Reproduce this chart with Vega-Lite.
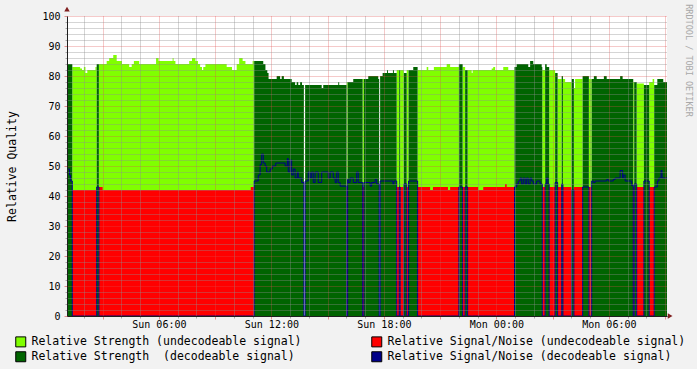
{
  "$schema": "https://vega.github.io/schema/vega-lite/v6.json",
  "width": 600,
  "height": 300,
  "autosize": {"type": "none"},
  "padding": {"left": 67, "top": 16, "right": 30, "bottom": 53},
  "background": "#f2f2f2",
  "config": {
    "view": {"stroke": null, "fill": "#ffffff"},
    "font": "DejaVu Sans Mono",
    "axis": {"labelFont": "DejaVu Sans Mono", "titleFont": "DejaVu Sans Mono", "labelColor": "#000000", "titleColor": "#000000"}
  },
  "data": {"values": [
    {"t":"2024-01-07T01:06","lg":0,"dg":85,"rd":0,"bl":49},
    {"t":"2024-01-07T01:09","lg":0,"dg":84,"rd":0,"bl":49},
    {"t":"2024-01-07T01:14","lg":0,"dg":84,"rd":0,"bl":47},
    {"t":"2024-01-07T01:17","lg":0,"dg":84,"rd":0,"bl":45},
    {"t":"2024-01-07T01:23","lg":83,"dg":0,"rd":42,"bl":0},
    {"t":"2024-01-07T01:48","lg":82.5,"dg":0,"rd":42,"bl":0},
    {"t":"2024-01-07T01:54","lg":82,"dg":0,"rd":42,"bl":0},
    {"t":"2024-01-07T02:00","lg":83,"dg":0,"rd":42,"bl":0},
    {"t":"2024-01-07T02:05","lg":81,"dg":0,"rd":42,"bl":0},
    {"t":"2024-01-07T02:11","lg":82,"dg":0,"rd":42,"bl":0},
    {"t":"2024-01-07T02:37","lg":83,"dg":0,"rd":42,"bl":0},
    {"t":"2024-01-07T02:41","lg":0,"dg":84,"rd":0,"bl":43},
    {"t":"2024-01-07T02:48","lg":84,"dg":0,"rd":43,"bl":0},
    {"t":"2024-01-07T03:00","lg":84,"dg":0,"rd":42,"bl":0},
    {"t":"2024-01-07T03:13","lg":85,"dg":0,"rd":42,"bl":0},
    {"t":"2024-01-07T03:21","lg":86,"dg":0,"rd":42,"bl":0},
    {"t":"2024-01-07T03:34","lg":87,"dg":0,"rd":42,"bl":0},
    {"t":"2024-01-07T03:45","lg":85,"dg":0,"rd":42,"bl":0},
    {"t":"2024-01-07T04:02","lg":84,"dg":0,"rd":42,"bl":0},
    {"t":"2024-01-07T04:25","lg":83,"dg":0,"rd":42,"bl":0},
    {"t":"2024-01-07T04:33","lg":84,"dg":0,"rd":42,"bl":0},
    {"t":"2024-01-07T04:40","lg":85,"dg":0,"rd":42,"bl":0},
    {"t":"2024-01-07T04:57","lg":84,"dg":0,"rd":42,"bl":0},
    {"t":"2024-01-07T05:51","lg":86,"dg":0,"rd":42,"bl":0},
    {"t":"2024-01-07T05:59","lg":85,"dg":0,"rd":42,"bl":0},
    {"t":"2024-01-07T06:44","lg":86,"dg":0,"rd":42,"bl":0},
    {"t":"2024-01-07T06:47","lg":85,"dg":0,"rd":42,"bl":0},
    {"t":"2024-01-07T06:53","lg":84,"dg":0,"rd":42,"bl":0},
    {"t":"2024-01-07T07:37","lg":85,"dg":0,"rd":42,"bl":0},
    {"t":"2024-01-07T07:46","lg":86,"dg":0,"rd":42,"bl":0},
    {"t":"2024-01-07T07:57","lg":85,"dg":0,"rd":42,"bl":0},
    {"t":"2024-01-07T08:05","lg":84,"dg":0,"rd":42,"bl":0},
    {"t":"2024-01-07T08:12","lg":83,"dg":0,"rd":42,"bl":0},
    {"t":"2024-01-07T08:18","lg":82,"dg":0,"rd":42,"bl":0},
    {"t":"2024-01-07T08:22","lg":83,"dg":0,"rd":42,"bl":0},
    {"t":"2024-01-07T08:29","lg":84,"dg":0,"rd":42,"bl":0},
    {"t":"2024-01-07T09:37","lg":83,"dg":0,"rd":42,"bl":0},
    {"t":"2024-01-07T09:54","lg":82,"dg":0,"rd":42,"bl":0},
    {"t":"2024-01-07T10:09","lg":84,"dg":0,"rd":42,"bl":0},
    {"t":"2024-01-07T10:17","lg":86,"dg":0,"rd":42,"bl":0},
    {"t":"2024-01-07T10:28","lg":85,"dg":0,"rd":42,"bl":0},
    {"t":"2024-01-07T10:37","lg":84,"dg":0,"rd":42,"bl":0},
    {"t":"2024-01-07T10:54","lg":84,"dg":0,"rd":43,"bl":0},
    {"t":"2024-01-07T11:00","lg":85,"dg":0,"rd":43,"bl":0},
    {"t":"2024-01-07T11:05","lg":0,"dg":85,"rd":0,"bl":45},
    {"t":"2024-01-07T11:18","lg":0,"dg":85,"rd":0,"bl":47},
    {"t":"2024-01-07T11:24","lg":0,"dg":85,"rd":0,"bl":50.5},
    {"t":"2024-01-07T11:29","lg":0,"dg":85,"rd":0,"bl":54},
    {"t":"2024-01-07T11:34","lg":0,"dg":84,"rd":0,"bl":51},
    {"t":"2024-01-07T11:40","lg":0,"dg":84,"rd":0,"bl":50},
    {"t":"2024-01-07T11:41","lg":0,"dg":82,"rd":0,"bl":50},
    {"t":"2024-01-07T11:45","lg":0,"dg":82,"rd":0,"bl":48},
    {"t":"2024-01-07T11:47","lg":0,"dg":81,"rd":0,"bl":48},
    {"t":"2024-01-07T11:51","lg":0,"dg":79,"rd":0,"bl":48},
    {"t":"2024-01-07T11:56","lg":0,"dg":79,"rd":0,"bl":49},
    {"t":"2024-01-07T12:03","lg":0,"dg":79,"rd":0,"bl":50},
    {"t":"2024-01-07T12:14","lg":0,"dg":79,"rd":0,"bl":51},
    {"t":"2024-01-07T12:17","lg":0,"dg":80,"rd":0,"bl":51},
    {"t":"2024-01-07T12:28","lg":0,"dg":79,"rd":0,"bl":51},
    {"t":"2024-01-07T12:33","lg":0,"dg":80,"rd":0,"bl":51},
    {"t":"2024-01-07T12:40","lg":0,"dg":79,"rd":0,"bl":51},
    {"t":"2024-01-07T12:44","lg":0,"dg":79,"rd":0,"bl":50},
    {"t":"2024-01-07T12:51","lg":0,"dg":79,"rd":0,"bl":52.5},
    {"t":"2024-01-07T12:54","lg":0,"dg":79,"rd":0,"bl":48},
    {"t":"2024-01-07T13:00","lg":0,"dg":79,"rd":0,"bl":52},
    {"t":"2024-01-07T13:05","lg":0,"dg":78,"rd":0,"bl":47},
    {"t":"2024-01-07T13:10","lg":0,"dg":78,"rd":0,"bl":49},
    {"t":"2024-01-07T13:16","lg":0,"dg":77,"rd":0,"bl":46},
    {"t":"2024-01-07T13:21","lg":0,"dg":78,"rd":0,"bl":46},
    {"t":"2024-01-07T13:23","lg":0,"dg":78,"rd":0,"bl":48},
    {"t":"2024-01-07T13:26","lg":0,"dg":77,"rd":0,"bl":46},
    {"t":"2024-01-07T13:32","lg":0,"dg":78,"rd":0,"bl":46},
    {"t":"2024-01-07T13:37","lg":0,"dg":78,"rd":0,"bl":44.5},
    {"t":"2024-01-07T13:38","lg":0,"dg":77,"rd":0,"bl":44.5},
    {"t":"2024-01-07T13:44","lg":0,"dg":0,"rd":0,"bl":0},
    {"t":"2024-01-07T13:48","lg":0,"dg":77,"rd":0,"bl":45},
    {"t":"2024-01-07T13:58","lg":0,"dg":77,"rd":0,"bl":48},
    {"t":"2024-01-07T14:04","lg":0,"dg":77,"rd":0,"bl":46},
    {"t":"2024-01-07T14:09","lg":0,"dg":77,"rd":0,"bl":48},
    {"t":"2024-01-07T14:14","lg":0,"dg":77,"rd":0,"bl":44.5},
    {"t":"2024-01-07T14:20","lg":0,"dg":77,"rd":0,"bl":48},
    {"t":"2024-01-07T14:30","lg":0,"dg":77,"rd":0,"bl":44.5},
    {"t":"2024-01-07T14:41","lg":0,"dg":76,"rd":0,"bl":48},
    {"t":"2024-01-07T14:46","lg":0,"dg":77,"rd":0,"bl":48},
    {"t":"2024-01-07T15:02","lg":0,"dg":77,"rd":0,"bl":46},
    {"t":"2024-01-07T15:08","lg":0,"dg":77,"rd":0,"bl":48},
    {"t":"2024-01-07T15:18","lg":0,"dg":77,"rd":0,"bl":46},
    {"t":"2024-01-07T15:24","lg":0,"dg":77,"rd":0,"bl":44.5},
    {"t":"2024-01-07T15:29","lg":0,"dg":77,"rd":0,"bl":48},
    {"t":"2024-01-07T15:34","lg":0,"dg":78,"rd":0,"bl":44.5},
    {"t":"2024-01-07T15:37","lg":0,"dg":77,"rd":0,"bl":44.5},
    {"t":"2024-01-07T15:40","lg":0,"dg":77,"rd":0,"bl":43.3},
    {"t":"2024-01-07T16:01","lg":78,"dg":0,"rd":43,"bl":0},
    {"t":"2024-01-07T16:04","lg":0,"dg":78,"rd":0,"bl":45.5},
    {"t":"2024-01-07T16:06","lg":0,"dg":78,"rd":0,"bl":44.5},
    {"t":"2024-01-07T16:12","lg":0,"dg":78,"rd":0,"bl":46},
    {"t":"2024-01-07T16:22","lg":0,"dg":79,"rd":0,"bl":44.5},
    {"t":"2024-01-07T16:33","lg":0,"dg":79,"rd":0,"bl":48},
    {"t":"2024-01-07T16:38","lg":0,"dg":79,"rd":0,"bl":44.5},
    {"t":"2024-01-07T16:52","lg":79,"dg":0,"rd":43,"bl":0},
    {"t":"2024-01-07T16:56","lg":0,"dg":79,"rd":0,"bl":44.5},
    {"t":"2024-01-07T17:10","lg":0,"dg":80,"rd":0,"bl":44.5},
    {"t":"2024-01-07T17:16","lg":0,"dg":80,"rd":0,"bl":43.3},
    {"t":"2024-01-07T17:21","lg":0,"dg":80,"rd":0,"bl":44.5},
    {"t":"2024-01-07T17:32","lg":0,"dg":80,"rd":0,"bl":45.5},
    {"t":"2024-01-07T17:37","lg":0,"dg":80,"rd":0,"bl":44},
    {"t":"2024-01-07T17:42","lg":0,"dg":79,"rd":0,"bl":44},
    {"t":"2024-01-07T17:45","lg":0,"dg":0,"rd":0,"bl":0},
    {"t":"2024-01-07T17:48","lg":0,"dg":80,"rd":0,"bl":45},
    {"t":"2024-01-07T17:56","lg":0,"dg":81,"rd":0,"bl":45},
    {"t":"2024-01-07T18:10","lg":0,"dg":82,"rd":0,"bl":45},
    {"t":"2024-01-07T18:13","lg":0,"dg":81,"rd":0,"bl":45},
    {"t":"2024-01-07T18:29","lg":0,"dg":82,"rd":0,"bl":44},
    {"t":"2024-01-07T18:32","lg":0,"dg":81,"rd":0,"bl":45},
    {"t":"2024-01-07T18:41","lg":82,"dg":0,"rd":43,"bl":0},
    {"t":"2024-01-07T18:49","lg":0,"dg":82,"rd":0,"bl":43},
    {"t":"2024-01-07T18:52","lg":82,"dg":0,"rd":43,"bl":0},
    {"t":"2024-01-07T19:04","lg":0,"dg":81,"rd":0,"bl":44},
    {"t":"2024-01-07T19:13","lg":82,"dg":0,"rd":43,"bl":0},
    {"t":"2024-01-07T19:19","lg":0,"dg":82,"rd":0,"bl":45},
    {"t":"2024-01-07T19:34","lg":0,"dg":83,"rd":0,"bl":45},
    {"t":"2024-01-07T19:48","lg":82,"dg":0,"rd":43,"bl":0},
    {"t":"2024-01-07T20:17","lg":83,"dg":0,"rd":43,"bl":0},
    {"t":"2024-01-07T20:22","lg":82,"dg":0,"rd":43,"bl":0},
    {"t":"2024-01-07T20:28","lg":82,"dg":0,"rd":42,"bl":0},
    {"t":"2024-01-07T20:37","lg":82,"dg":0,"rd":43,"bl":0},
    {"t":"2024-01-07T20:40","lg":83,"dg":0,"rd":43,"bl":0},
    {"t":"2024-01-07T21:21","lg":84,"dg":0,"rd":43,"bl":0},
    {"t":"2024-01-07T21:25","lg":84,"dg":0,"rd":42,"bl":0},
    {"t":"2024-01-07T21:32","lg":83,"dg":0,"rd":43,"bl":0},
    {"t":"2024-01-07T22:00","lg":0,"dg":84,"rd":0,"bl":43},
    {"t":"2024-01-07T22:12","lg":83,"dg":0,"rd":43,"bl":0},
    {"t":"2024-01-07T22:20","lg":0,"dg":82,"rd":0,"bl":43},
    {"t":"2024-01-07T22:28","lg":82,"dg":0,"rd":43,"bl":0},
    {"t":"2024-01-07T22:41","lg":81,"dg":0,"rd":43,"bl":0},
    {"t":"2024-01-07T22:44","lg":82,"dg":0,"rd":43,"bl":0},
    {"t":"2024-01-07T23:02","lg":82,"dg":0,"rd":42,"bl":0},
    {"t":"2024-01-07T23:18","lg":82,"dg":0,"rd":43,"bl":0},
    {"t":"2024-01-07T23:45","lg":82.5,"dg":0,"rd":43,"bl":0},
    {"t":"2024-01-07T23:50","lg":83,"dg":0,"rd":43,"bl":0},
    {"t":"2024-01-07T23:56","lg":82,"dg":0,"rd":43,"bl":0},
    {"t":"2024-01-08T00:22","lg":83,"dg":0,"rd":43,"bl":0},
    {"t":"2024-01-08T00:28","lg":83,"dg":0,"rd":44,"bl":0},
    {"t":"2024-01-08T00:33","lg":83,"dg":0,"rd":43,"bl":0},
    {"t":"2024-01-08T00:38","lg":82,"dg":0,"rd":43,"bl":0},
    {"t":"2024-01-08T00:58","lg":0,"dg":83,"rd":0,"bl":43},
    {"t":"2024-01-08T01:05","lg":0,"dg":84,"rd":0,"bl":44},
    {"t":"2024-01-08T01:10","lg":0,"dg":84,"rd":0,"bl":45},
    {"t":"2024-01-08T01:16","lg":0,"dg":84,"rd":0,"bl":46},
    {"t":"2024-01-08T01:21","lg":0,"dg":84,"rd":0,"bl":44},
    {"t":"2024-01-08T01:26","lg":0,"dg":84,"rd":0,"bl":46},
    {"t":"2024-01-08T01:32","lg":0,"dg":84,"rd":0,"bl":44},
    {"t":"2024-01-08T01:37","lg":0,"dg":84,"rd":0,"bl":46},
    {"t":"2024-01-08T01:42","lg":0,"dg":83,"rd":0,"bl":44},
    {"t":"2024-01-08T01:48","lg":0,"dg":85,"rd":0,"bl":46},
    {"t":"2024-01-08T01:53","lg":0,"dg":85,"rd":0,"bl":45},
    {"t":"2024-01-08T01:58","lg":0,"dg":84,"rd":0,"bl":44},
    {"t":"2024-01-08T02:09","lg":0,"dg":84,"rd":0,"bl":45},
    {"t":"2024-01-08T02:20","lg":0,"dg":84,"rd":0,"bl":44},
    {"t":"2024-01-08T02:25","lg":0,"dg":83,"rd":0,"bl":44},
    {"t":"2024-01-08T02:27","lg":82,"dg":0,"rd":43,"bl":0},
    {"t":"2024-01-08T02:36","lg":0,"dg":84,"rd":0,"bl":44},
    {"t":"2024-01-08T02:41","lg":0,"dg":83,"rd":0,"bl":46},
    {"t":"2024-01-08T02:45","lg":0,"dg":83,"rd":0,"bl":44},
    {"t":"2024-01-08T02:49","lg":82,"dg":0,"rd":43,"bl":0},
    {"t":"2024-01-08T03:08","lg":0,"dg":81,"rd":0,"bl":44.5},
    {"t":"2024-01-08T03:16","lg":79,"dg":0,"rd":43,"bl":0},
    {"t":"2024-01-08T03:29","lg":0,"dg":80,"rd":0,"bl":44},
    {"t":"2024-01-08T03:33","lg":79,"dg":0,"rd":43,"bl":0},
    {"t":"2024-01-08T03:40","lg":78,"dg":0,"rd":43,"bl":0},
    {"t":"2024-01-08T04:01","lg":0,"dg":79,"rd":0,"bl":42},
    {"t":"2024-01-08T04:08","lg":76,"dg":0,"rd":43,"bl":0},
    {"t":"2024-01-08T04:12","lg":79,"dg":0,"rd":43,"bl":0},
    {"t":"2024-01-08T04:36","lg":0,"dg":80,"rd":0,"bl":43},
    {"t":"2024-01-08T04:56","lg":79,"dg":0,"rd":43,"bl":0},
    {"t":"2024-01-08T05:05","lg":0,"dg":79,"rd":0,"bl":45},
    {"t":"2024-01-08T05:10","lg":0,"dg":79,"rd":0,"bl":44.5},
    {"t":"2024-01-08T05:12","lg":0,"dg":80,"rd":0,"bl":44.5},
    {"t":"2024-01-08T05:16","lg":0,"dg":80,"rd":0,"bl":45},
    {"t":"2024-01-08T05:21","lg":0,"dg":79,"rd":0,"bl":45},
    {"t":"2024-01-08T05:44","lg":0,"dg":80,"rd":0,"bl":45},
    {"t":"2024-01-08T05:53","lg":0,"dg":79,"rd":0,"bl":45.5},
    {"t":"2024-01-08T05:58","lg":0,"dg":79,"rd":0,"bl":45},
    {"t":"2024-01-08T06:14","lg":0,"dg":79,"rd":0,"bl":45.5},
    {"t":"2024-01-08T06:20","lg":0,"dg":79,"rd":0,"bl":46},
    {"t":"2024-01-08T06:36","lg":0,"dg":80,"rd":0,"bl":48.5},
    {"t":"2024-01-08T06:44","lg":0,"dg":79,"rd":0,"bl":46},
    {"t":"2024-01-08T06:46","lg":0,"dg":79,"rd":0,"bl":47},
    {"t":"2024-01-08T06:52","lg":0,"dg":79,"rd":0,"bl":45},
    {"t":"2024-01-08T07:13","lg":0,"dg":79,"rd":0,"bl":43.5},
    {"t":"2024-01-08T07:18","lg":78,"dg":0,"rd":43,"bl":0},
    {"t":"2024-01-08T07:21","lg":0,"dg":78,"rd":0,"bl":44},
    {"t":"2024-01-08T07:29","lg":77.5,"dg":0,"rd":43,"bl":0},
    {"t":"2024-01-08T07:52","lg":0,"dg":77,"rd":0,"bl":45},
    {"t":"2024-01-08T08:09","lg":78,"dg":0,"rd":43,"bl":0},
    {"t":"2024-01-08T08:20","lg":79,"dg":0,"rd":43,"bl":0},
    {"t":"2024-01-08T08:25","lg":0,"dg":77,"rd":0,"bl":43},
    {"t":"2024-01-08T08:35","lg":0,"dg":79,"rd":0,"bl":45},
    {"t":"2024-01-08T08:40","lg":0,"dg":79,"rd":0,"bl":46},
    {"t":"2024-01-08T08:47","lg":0,"dg":79,"rd":0,"bl":48.5},
    {"t":"2024-01-08T08:50","lg":0,"dg":79,"rd":0,"bl":46},
    {"t":"2024-01-08T08:54","lg":0,"dg":78,"rd":0,"bl":46},
    {"t":"2024-01-08T09:06","lg":0,"dg":78,"rd":0,"bl":46}
  ]},
  "layer": [
    {
      "mark": {"type": "area", "interpolate": "step-after", "opacity": 1},
      "encoding": {
        "x": {"field": "t", "type": "temporal",
          "scale": {"domain": [{"year": 2024, "month": 1, "date": 7, "hours": 1, "minutes": 6}, {"year": 2024, "month": 1, "date": 8, "hours": 9, "minutes": 6}], "nice": false},
          "axis": {"orient": "bottom", "zindex": 1, "title": null, "labels": false, "domain": false,
            "ticks": true, "tickSize": 2, "tickColor": "rgba(143,143,143,0.75)",
            "grid": true, "gridColor": "rgba(143,143,143,0.75)", "gridDash": [1, 1], "gridWidth": 1,
            "values": [
              {"year": 2024, "month": 1, "date": 7, "hours": 2},
              {"year": 2024, "month": 1, "date": 7, "hours": 4},
              {"year": 2024, "month": 1, "date": 7, "hours": 5},
              {"year": 2024, "month": 1, "date": 7, "hours": 7},
              {"year": 2024, "month": 1, "date": 7, "hours": 8},
              {"year": 2024, "month": 1, "date": 7, "hours": 10},
              {"year": 2024, "month": 1, "date": 7, "hours": 11},
              {"year": 2024, "month": 1, "date": 7, "hours": 13},
              {"year": 2024, "month": 1, "date": 7, "hours": 14},
              {"year": 2024, "month": 1, "date": 7, "hours": 16},
              {"year": 2024, "month": 1, "date": 7, "hours": 17},
              {"year": 2024, "month": 1, "date": 7, "hours": 19},
              {"year": 2024, "month": 1, "date": 7, "hours": 20},
              {"year": 2024, "month": 1, "date": 7, "hours": 22},
              {"year": 2024, "month": 1, "date": 7, "hours": 23},
              {"year": 2024, "month": 1, "date": 8, "hours": 1},
              {"year": 2024, "month": 1, "date": 8, "hours": 2},
              {"year": 2024, "month": 1, "date": 8, "hours": 4},
              {"year": 2024, "month": 1, "date": 8, "hours": 5},
              {"year": 2024, "month": 1, "date": 8, "hours": 7},
              {"year": 2024, "month": 1, "date": 8, "hours": 8}
            ]}},
        "y": {"field": "lg", "type": "quantitative",
          "scale": {"domain": [0, 100], "nice": false},
          "axis": {"orient": "left", "zindex": 1, "title": null, "labels": false, "domain": false,
            "ticks": true, "tickSize": 2, "tickColor": "rgba(143,143,143,0.75)",
            "grid": true, "gridColor": "rgba(143,143,143,0.75)", "gridDash": [1, 1], "gridWidth": 1,
            "values": [2,4,6,8,12,14,16,18,22,24,26,28,32,34,36,38,42,44,46,48,52,54,56,58,62,64,66,68,72,74,76,78,82,84,86,88,92,94,96,98]}},
        "color": {"datum": "Relative Strength (undecodeable signal)",
          "scale": {
            "domain": ["Relative Strength (undecodeable signal)", "Relative Strength \u00a0(decodeable signal)", "Relative Signal/Noise (undecodeable signal)", "Relative Signal/Noise (decodeable signal)"],
            "range": ["#80ff00", "#006400", "#ff0000", "#000088"]},
          "legend": {"orient": "none", "legendX": -52, "legendY": 320, "columns": 2, "columnPadding": 67, "rowPadding": 0,
            "padding": 0, "title": null, "symbolType": "square", "symbolSize": 100,
            "symbolStrokeColor": "#000000", "symbolStrokeWidth": 1,
            "labelFont": "DejaVu Sans Mono", "labelFontSize": 11.5, "labelColor": "#000000", "labelLimit": 400, "labelOffset": 5}}
      }
    },
    {
      "mark": {"type": "area", "interpolate": "step-after", "opacity": 1},
      "encoding": {
        "x": {"field": "t", "type": "temporal",
          "axis": {"orient": "bottom", "zindex": 1, "title": null, "labels": false, "domain": false,
            "ticks": true, "tickSize": 3, "tickColor": "rgba(222,79,79,0.6)",
            "grid": true, "gridColor": "rgba(222,79,79,0.6)", "gridDash": [1, 1], "gridWidth": 1,
            "values": [
              {"year": 2024, "month": 1, "date": 7, "hours": 3},
              {"year": 2024, "month": 1, "date": 7, "hours": 6},
              {"year": 2024, "month": 1, "date": 7, "hours": 9},
              {"year": 2024, "month": 1, "date": 7, "hours": 12},
              {"year": 2024, "month": 1, "date": 7, "hours": 15},
              {"year": 2024, "month": 1, "date": 7, "hours": 18},
              {"year": 2024, "month": 1, "date": 7, "hours": 21},
              {"year": 2024, "month": 1, "date": 8, "hours": 0},
              {"year": 2024, "month": 1, "date": 8, "hours": 3},
              {"year": 2024, "month": 1, "date": 8, "hours": 6},
              {"year": 2024, "month": 1, "date": 8, "hours": 9}
            ]}},
        "y": {"field": "dg", "type": "quantitative",
          "axis": {"orient": "left", "zindex": 1, "title": "Relative Quality", "titleFontSize": 11.5, "titleFontWeight": "normal",
            "titleX": -55, "titleBaseline": "middle",
            "labels": true, "labelFontSize": 10, "labelPadding": 4,
            "domain": true, "domainColor": "#1f1f1f", "domainWidth": 1,
            "ticks": true, "tickSize": 3, "tickColor": "rgba(222,79,79,0.6)",
            "grid": true, "gridColor": "rgba(222,79,79,0.6)", "gridDash": [1, 1], "gridWidth": 1,
            "values": [0,10,20,30,40,50,60,70,80,90,100]}},
        "color": {"datum": "Relative Strength \u00a0(decodeable signal)"}
      }
    },
    {
      "mark": {"type": "area", "interpolate": "step-after", "opacity": 1},
      "encoding": {
        "x": {"field": "t", "type": "temporal",
          "axis": {"orient": "bottom", "zindex": 1, "title": null, "labels": true, "format": "%a %H:%M",
            "labelFontSize": 10, "labelPadding": 3, "labelFlush": false,
            "domain": true, "domainColor": "#1f1f1f", "domainWidth": 1,
            "ticks": false, "grid": false,
            "values": [
              {"year": 2024, "month": 1, "date": 7, "hours": 6},
              {"year": 2024, "month": 1, "date": 7, "hours": 12},
              {"year": 2024, "month": 1, "date": 7, "hours": 18},
              {"year": 2024, "month": 1, "date": 8, "hours": 0},
              {"year": 2024, "month": 1, "date": 8, "hours": 6}
            ]}},
        "y": {"field": "rd", "type": "quantitative",
          "axis": {"orient": "right", "zindex": 1, "title": "RRDTOOL / TOBI OETIKER", "titleAngle": 90,
            "titleX": 21, "titleY": 44, "titleBaseline": "middle", "titleAlign": "center",
            "titleFontSize": 8.5, "titleFontWeight": "normal", "titleColor": "#a8a8a8",
            "labels": false, "ticks": false, "domain": false, "grid": false}},
        "color": {"datum": "Relative Signal/Noise (undecodeable signal)"}
      }
    },
    {
      "mark": {"type": "line", "interpolate": "step-after", "color": "#000088", "strokeWidth": 1},
      "encoding": {
        "x": {"field": "t", "type": "temporal", "axis": null},
        "y": {"field": "bl", "type": "quantitative", "axis": null}
      }
    },
    {
      "data": {"values": [{"t": "2024-01-08T09:16", "v": 0}]},
      "mark": {"type": "point", "shape": "triangle-right", "filled": true, "color": "#801f1f", "size": 30, "opacity": 1},
      "encoding": {
        "x": {"field": "t", "type": "temporal", "axis": null},
        "y": {"field": "v", "type": "quantitative", "axis": null}
      }
    },
    {
      "data": {"values": [{"t": "2024-01-07T01:06", "v": 102.3}]},
      "mark": {"type": "point", "shape": "triangle-up", "filled": true, "color": "#801f1f", "size": 30, "opacity": 1},
      "encoding": {
        "x": {"field": "t", "type": "temporal", "axis": null},
        "y": {"field": "v", "type": "quantitative", "axis": null}
      }
    }
  ],
  "resolve": {"axis": {"x": "independent", "y": "independent"}}
}
